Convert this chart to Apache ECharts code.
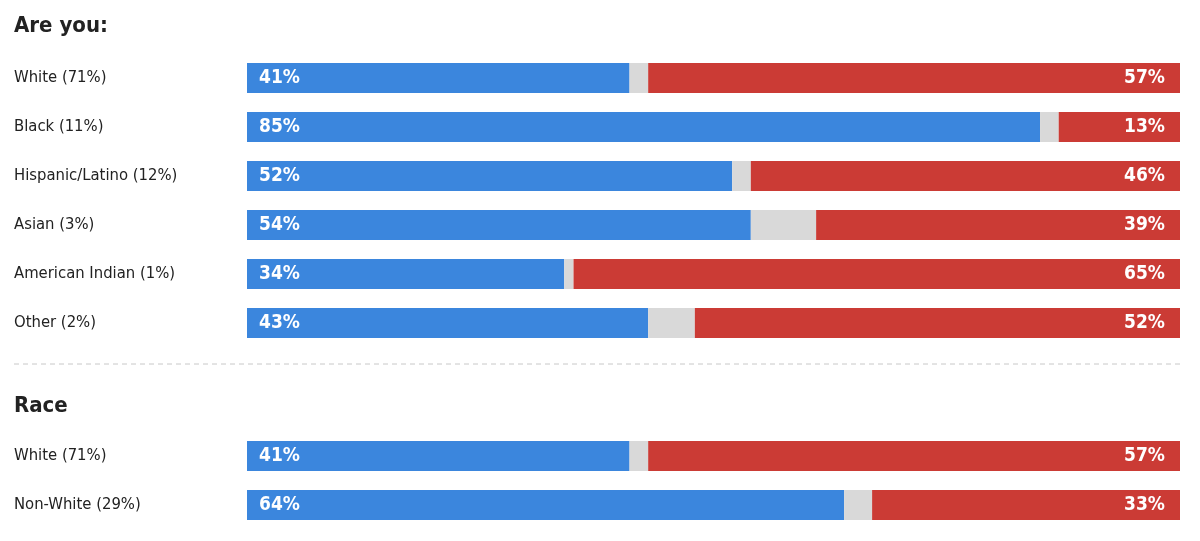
<!DOCTYPE html>
<html>
<head>
<meta charset="utf-8">
<script src="https://cdn.jsdelivr.net/npm/echarts@6/dist/echarts.min.js"></script>
<style>
  html, body { margin: 0; padding: 0; background: #fff; }
  #chart { width: 1200px; height: 541px; }
</style>
</head>
<body>
<div id="chart"></div>
<script>
// Section 1: "Are you:"
const raceCategories = ['White (71%)', 'Black (11%)', 'Hispanic/Latino (12%)', 'Asian (3%)', 'American Indian (1%)', 'Other (2%)'];
const raceDem = [41, 85, 52, 54, 34, 43];
const raceOther = [2, 2, 2, 7, 1, 5];
const raceRep = [57, 13, 46, 39, 65, 52];

// Section 2: "Race"
const groupCategories = ['White (71%)', 'Non-White (29%)'];
const groupDem = [41, 64];
const groupOther = [2, 3];
const groupRep = [57, 33];

const FONT = '"Liberation Sans Narrow", "DejaVu Sans Condensed", "Roboto", sans-serif';
const BLUE = '#3b86dd';
const GRAY = '#d9d9d9';
const RED = '#cb3b35';

const chart = echarts.init(document.getElementById('chart'));

function makeSeries(idx, dem, other, rep) {
    const labelStyle = {
        show: true,
        color: '#fff',
        fontFamily: FONT,
        fontWeight: 'bold',
        fontSize: 19,
        formatter: p => p.value + '%'
    };
    return [
        {
            type: 'bar', stack: 's' + idx, xAxisIndex: idx, yAxisIndex: idx,
            barWidth: 30, data: dem, itemStyle: { color: BLUE },
            label: Object.assign({ position: 'insideLeft', distance: 12 }, labelStyle),
            silent: true
        },
        {
            type: 'bar', stack: 's' + idx, xAxisIndex: idx, yAxisIndex: idx,
            barWidth: 30, data: other, itemStyle: { color: GRAY },
            silent: true
        },
        {
            type: 'bar', stack: 's' + idx, xAxisIndex: idx, yAxisIndex: idx,
            barWidth: 30, data: rep, itemStyle: { color: RED },
            label: Object.assign({ position: 'insideRight', distance: 15 }, labelStyle),
            silent: true
        }
    ];
}

function yAxisFor(idx, cats) {
    return {
        type: 'category', gridIndex: idx, data: cats, inverse: true,
        axisLine: { show: false }, axisTick: { show: false },
        axisLabel: {
            align: 'left', margin: 233, color: '#222',
            fontFamily: FONT, fontSize: 16.5
        }
    };
}

function xAxisFor(idx) {
    return {
        type: 'value', gridIndex: idx, min: 0, max: 100,
        show: false, splitLine: { show: false }
    };
}

const titleStyle = { fontFamily: FONT, fontWeight: 'bold', fontSize: 22, color: '#222' };

chart.setOption({
    animation: false,
    title: [
        { text: 'Are you:', left: 14, top: 15, padding: 0, textStyle: titleStyle },
        { text: 'Race', left: 14, top: 395, padding: 0, textStyle: titleStyle }
    ],
    grid: [
        { left: 247, width: 933, top: 53.5, height: 294 },
        { left: 247, width: 933, top: 431.5, height: 98 }
    ],
    xAxis: [xAxisFor(0), xAxisFor(1)],
    yAxis: [yAxisFor(0, raceCategories), yAxisFor(1, groupCategories)],
    series: [].concat(
        makeSeries(0, raceDem, raceOther, raceRep),
        makeSeries(1, groupDem, groupOther, groupRep)
    ),
    graphic: [
        {
            type: 'line',
            shape: { x1: 14, y1: 364, x2: 1180, y2: 364 },
            style: { stroke: '#c8c8c8', lineWidth: 1, lineDash: [5, 4] },
            silent: true
        }
    ]
});
</script>
</body>
</html>
